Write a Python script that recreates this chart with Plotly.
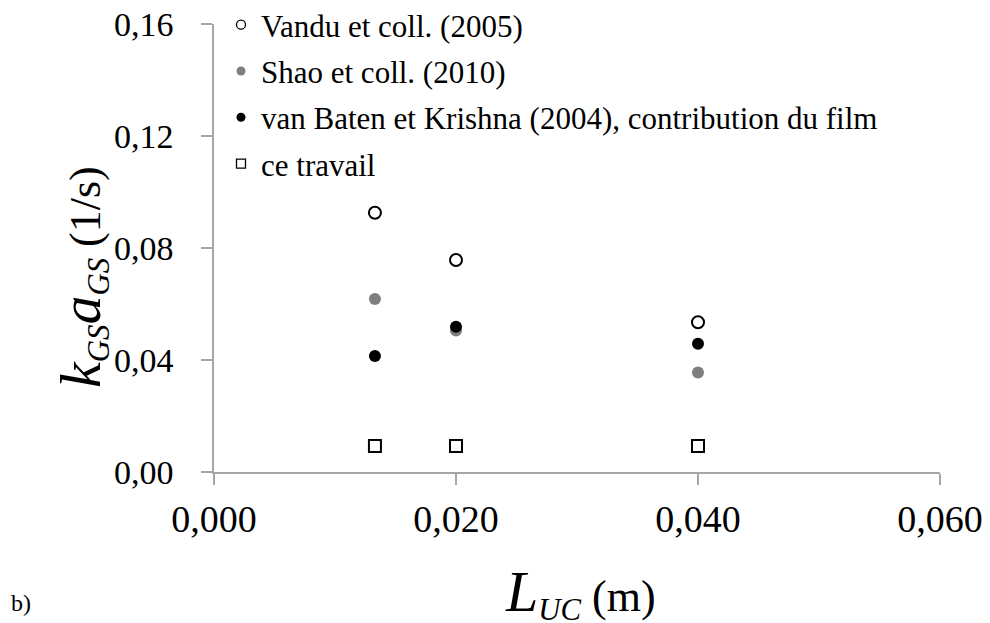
import plotly.graph_objects as go

# Data
L_uc = [0.0133, 0.020, 0.040]
vandu = [0.0926, 0.0757, 0.0535]
shao = [0.0618, 0.0505, 0.0355]
van_baten = [0.0414, 0.0519, 0.0458]
ce_travail = [0.0093, 0.0093, 0.0093]

names = [
    "Vandu et coll. (2005)",
    "Shao et coll. (2010)",
    "van Baten et Krishna (2004), contribution du film",
    "ce travail",
]

x_ticks = [0.0, 0.02, 0.04, 0.06]
x_ticklabels = ["0,000", "0,020", "0,040", "0,060"]
y_ticks = [0.0, 0.04, 0.08, 0.12, 0.16]
y_ticklabels = ["0,00", "0,04", "0,08", "0,12", "0,16"]

FONT = "Liberation Serif, Times New Roman, serif"
GREY = "#7f7f7f"

styles = [
    dict(symbol="circle-open", color="black", line=dict(width=2, color="black")),
    dict(symbol="circle", color=GREY, line=dict(width=0)),
    dict(symbol="circle", color="black", line=dict(width=0)),
    dict(symbol="square-open", color="black", line=dict(width=2, color="black")),
]
series = [vandu, shao, van_baten, ce_travail]
sizes = [12, 12, 12, 12]
legend_sizes = [9, 9, 9, 9]

fig = go.Figure()
for i, (name, ys, st) in enumerate(zip(names, series, styles)):
    fig.add_trace(go.Scatter(
        x=L_uc, y=ys, mode="markers", name=name, showlegend=False,
        marker=dict(symbol=st["symbol"], color=st["color"], size=sizes[i], line=st["line"]),
    ))
for i, (name, st) in enumerate(zip(names, styles)):
    lw = 1.3 if "open" in st["symbol"] else 0
    fig.add_trace(go.Scatter(
        x=[None], y=[None], mode="markers", name=name, legendgroup=f"g{i}",
        marker=dict(symbol=st["symbol"], color=st["color"], size=legend_sizes[i],
                    line=dict(width=lw, color="black")),
    ))

# the page body has an 8px margin: figure drawn 8px right/down of window origin
OFF = 8
W, H = 990 - OFF, 623 - OFF
PL, PR, PT, PB = 214, 940, 24, 472  # plot area in window pixels
def px(sx):
    return (sx - PL) / (PR - PL)
def py(sy):
    return (PB - sy) / (PB - PT)

axis_col = "#a6a6a6"
fig.update_layout(
    width=W, height=H,
    margin=dict(l=PL - OFF, r=W - (PR - OFF), t=PT - OFF, b=H - (PB - OFF), autoexpand=False),
    paper_bgcolor="white", plot_bgcolor="white",
    font=dict(family=FONT, color="black"),
    showlegend=True,
    legend=dict(
        x=px(221), y=py(-2), xanchor="left", yanchor="top",
        font=dict(family=FONT, size=31, color="black"),
        bgcolor="rgba(0,0,0,0)", tracegroupgap=3, itemwidth=30,
    ),
    xaxis=dict(
        range=[0, 0.06], tickvals=x_ticks, ticktext=x_ticklabels,
        showgrid=False, zeroline=False, showline=True, linecolor=axis_col, linewidth=1.5,
        ticks="outside", ticklen=11, tickcolor=axis_col, tickwidth=1.5,
        tickfont=dict(family=FONT, size=38, color="black"), ticklabelstandoff=2,
        ticklabeloverflow="allow",
    ),
    yaxis=dict(
        range=[0, 0.16], tickvals=y_ticks, ticktext=y_ticklabels,
        showgrid=False, zeroline=False, showline=True, linecolor=axis_col, linewidth=1.5,
        ticks="outside", ticklen=11, tickcolor=axis_col, tickwidth=1.5,
        tickfont=dict(family=FONT, size=34, color="black"), ticklabelstandoff=21,
        ticklabeloverflow="allow",
    ),
)

big = "<span style='font-size:58px'><i>{}</i></span>"
fig.add_annotation(
    xref="paper", yref="paper", x=px(82), y=py(277),
    xanchor="center", yanchor="middle", textangle=-90, showarrow=False,
    text=big.format("k") + "<sub><i>GS</i></sub>" + big.format("a") + "<sub><i>GS</i></sub> (1/s)",
    font=dict(family=FONT, size=44, color="black"),
)
fig.add_annotation(
    xref="paper", yref="paper", x=px(580), y=py(593),
    xanchor="center", yanchor="middle", showarrow=False,
    text=big.format("L") + "<sub><i>UC</i></sub> (m)",
    font=dict(family=FONT, size=44, color="black"),
)
fig.add_annotation(
    xref="paper", yref="paper", x=px(9), y=py(603),
    xanchor="left", yanchor="middle", showarrow=False,
    text="b)", font=dict(family=FONT, size=24, color="black"),
)

fig.write_html("out.html")
